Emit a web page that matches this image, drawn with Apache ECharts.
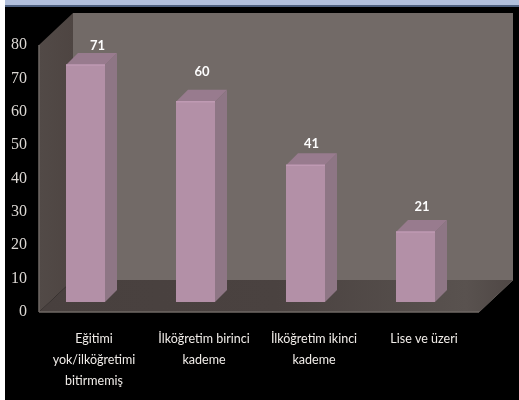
<!DOCTYPE html>
<html><head><meta charset="utf-8">
<style>html,body{margin:0;padding:0;background:#000}#c{width:519px;height:400px;filter:blur(0.45px)}</style>
<script src="https://cdn.jsdelivr.net/npm/echarts@6/dist/echarts.min.js"></script>
</head><body><div id="c"></div>
<script>
const categories = ['Eğitimi\nyok/ilköğretimi\nbitirmemiş', 'İlköğretim birinci\nkademe', 'İlköğretim ikinci\nkademe', 'Lise ve üzeri'];
const values = [71, 60, 41, 21];
const yTicksMax = 80, yTickStep = 10;

// 3D look: oblique depth of the chart box and placement of bars inside it
const WALL_DX = 34, WALL_DY = 32;
const BAR_W = 39, BAR_SHIFT_X = -8.5, BAR_LIFT = 10, BAR_DX = 12, BAR_DY = 12;
const LABEL_NUDGE = [[12, -19], [6.5, -30], [6, -21], [6.5, -25]];

const chart = echarts.init(document.getElementById('c'), null, {renderer: 'canvas'});

function poly(points, fill, stroke) {
  return {type: 'polygon', shape: {points}, style: {fill, stroke: stroke || null, lineWidth: stroke ? 1 : 0}};
}

function renderBox(params, api) {
  const cs = params.coordSys;
  const L = cs.x, T = cs.y, R = cs.x + cs.width, B = cs.y + cs.height;
  const dx = WALL_DX, dy = WALL_DY;
  return {type: 'group', children: [
    poly([[L + dx, T - dy], [R + dx, T - dy], [R + dx, B - dy], [L + dx, B - dy]], '#726a67'),
    poly([[L, T], [L + dx, T - dy], [L + dx, B - dy], [L, B]],
      new echarts.graphic.LinearGradient(0, 0, 1, 0, [{offset: 0, color: '#524a47'}, {offset: 1, color: '#4e4542'}])),
    poly([[L, B], [R, B], [R + dx, B - dy], [L + dx, B - dy]],
      new echarts.graphic.LinearGradient(0, 0, 1, 0, [{offset: 0, color: '#48403e'}, {offset: 0.5, color: '#4a4240'}, {offset: 0.9, color: '#59524f'}, {offset: 1, color: '#4f4745'}])),
    {type: 'line', shape: {x1: L, y1: T, x2: L, y2: B}, style: {stroke: '#6f6865', lineWidth: 1.5}},
    {type: 'line', shape: {x1: L, y1: B, x2: R, y2: B}, style: {stroke: '#6f6865', lineWidth: 1.5}},
    {type: 'line', shape: {x1: R, y1: B, x2: R + dx, y2: B - dy}, style: {stroke: '#5f5855', lineWidth: 1}}
  ]};
}

function renderBar(params, api) {
  const i = api.value(0), v = api.value(1);
  const c = api.coord([i, v]), o = api.coord([i, 0]);
  const x0 = c[0] + BAR_SHIFT_X - BAR_W / 2, x1 = x0 + BAR_W;
  const yT = c[1] - BAR_LIFT, yB = o[1] - BAR_LIFT;
  const nudge = LABEL_NUDGE[params.dataIndex];
  return {type: 'group', children: [
    poly([[x1, yT], [x1 + BAR_DX, yT - BAR_DY], [x1 + BAR_DX, yB - BAR_DY], [x1, yB]], '#8e7685'),
    poly([[x0, yT], [x0 + BAR_DX, yT - BAR_DY], [x1 + BAR_DX, yT - BAR_DY], [x1, yT]], '#987b8e'),
    poly([[x0, yT], [x1, yT], [x1, yB], [x0, yB]], '#b390a7'),
    {type: 'line', shape: {x1: x0, y1: yT, x2: x1, y2: yT}, style: {stroke: '#bf9ab3', lineWidth: 1.5}},
    {type: 'text', x: x0 + BAR_W / 2 + nudge[0], y: yT + nudge[1],
      style: {text: String(v), fill: '#fdfdfd', font: 'bold 13px Lato', align: 'center', verticalAlign: 'middle'}}
  ]};
}

chart.setOption({
  backgroundColor: '#000',
  animation: false,
  grid: {left: 39, top: 45, width: 440, height: 267, containLabel: false},
  xAxis: {
    type: 'category', data: categories,
    axisLine: {show: false}, axisTick: {show: false}, splitLine: {show: false},
    axisLabel: {color: '#f0ece8', fontFamily: 'Lato', fontSize: 12.5, lineHeight: 21, margin: 16, interval: 0, hideOverlap: false}
  },
  yAxis: {
    type: 'value', min: 0, max: yTicksMax, interval: yTickStep,
    axisLine: {show: false}, axisTick: {show: false}, splitLine: {show: false},
    axisLabel: {color: '#dcd8d4', fontFamily: 'Liberation Serif', fontSize: 16, margin: 12}
  },
  graphic: [
    {type: 'rect', silent: true, z: 100, shape: {x: 0, y: 0, width: 5, height: 400}, style: {fill: '#fff'}},
    {type: 'rect', silent: true, z: 101, shape: {x: 5, y: 0, width: 514, height: 5}, style: {fill: '#b2c0dc'}},
    {type: 'rect', silent: true, z: 101, shape: {x: 5, y: 5, width: 514, height: 2}, style: {fill: '#4f6180'}}
  ],
  series: [
    {type: 'custom', silent: true, z: 1, coordinateSystem: 'cartesian2d', renderItem: renderBox, data: [[0, 0]], encode: {x: 0, y: 1}, clip: false},
    {type: 'custom', z: 2, coordinateSystem: 'cartesian2d', renderItem: renderBar, data: values.map((v, i) => [i, v]), encode: {x: 0, y: 1}, clip: false}
  ]
});
</script></body></html>
